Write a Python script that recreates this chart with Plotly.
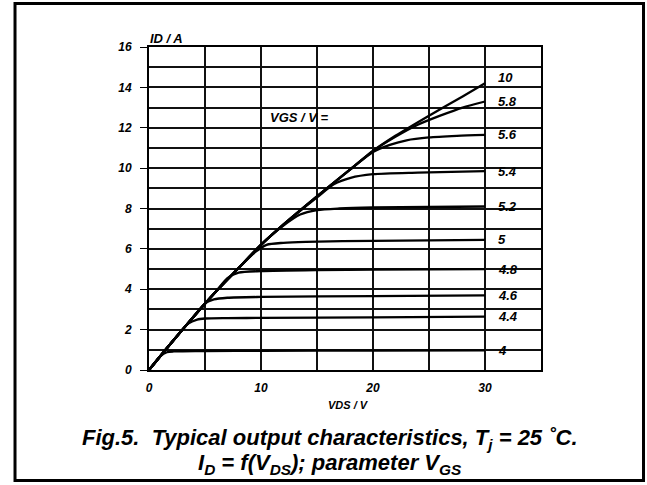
import plotly.graph_objects as go

# ---- data ----
vgs_labels = ["10", "5.8", "5.6", "5.4", "5.2", "5", "4.8", "4.6", "4.4", "4"]

vds_10 = [0, 2, 4, 6, 8, 10, 12, 15, 18, 20, 22, 25, 28, 30]
id_10 = [0, 1.35, 2.65, 3.9, 5.05, 6.2, 7.2, 8.6, 9.95, 10.85, 11.6, 12.6, 13.55, 14.2]

vds_58 = [0, 2, 4, 6, 8, 10, 12, 15, 18, 20, 22, 24, 26, 28, 30]
id_58 = [0, 1.35, 2.65, 3.9, 5.05, 6.2, 7.2, 8.6, 9.95, 10.85, 11.55, 12.15, 12.6, 13.0, 13.3]

vds_56 = [0, 2, 4, 6, 8, 10, 12, 15, 18, 20, 21.5, 23, 25, 27.5, 30]
id_56 = [0, 1.35, 2.65, 3.9, 5.05, 6.2, 7.2, 8.6, 9.95, 10.8, 11.15, 11.38, 11.52, 11.6, 11.65]

vds_54 = [0, 2, 4, 6, 8, 10, 12, 15, 16.5, 18, 20, 24, 30]
id_54 = [0, 1.35, 2.65, 3.9, 5.05, 6.2, 7.2, 8.55, 9.2, 9.52, 9.7, 9.78, 9.85]

vds_52 = [0, 2, 4, 6, 8, 10, 12, 13.5, 15, 17, 20, 30]
id_52 = [0, 1.35, 2.65, 3.9, 5.05, 6.2, 7.15, 7.7, 7.92, 8.0, 8.05, 8.1]

vds_50 = [0, 2, 4, 6, 8, 9.5, 10.5, 12, 14, 20, 30]
id_50 = [0, 1.35, 2.65, 3.9, 5.05, 5.85, 6.2, 6.3, 6.35, 6.4, 6.45]

vds_48 = [0, 2, 4, 6, 7, 8, 10, 15, 20, 30]
id_48 = [0, 1.35, 2.65, 3.9, 4.55, 4.82, 4.9, 4.95, 4.97, 5.0]

vds_46 = [0, 2, 4, 5, 5.8, 7, 10, 20, 30]
id_46 = [0, 1.35, 2.65, 3.3, 3.5, 3.58, 3.62, 3.66, 3.7]

vds_44 = [0, 2, 3.5, 4.3, 5, 7, 10, 20, 30]
id_44 = [0, 1.35, 2.3, 2.5, 2.55, 2.57, 2.58, 2.61, 2.64]

vds_40 = [0, 1, 1.6, 2.2, 3, 5, 10, 20, 30]
id_40 = [0, 0.68, 0.88, 0.92, 0.93, 0.94, 0.95, 0.96, 0.97]

curves_x = [vds_10, vds_58, vds_56, vds_54, vds_52, vds_50, vds_48, vds_46, vds_44, vds_40]
curves_y = [id_10, id_58, id_56, id_54, id_52, id_50, id_48, id_46, id_44, id_40]

FONT = "Liberation Sans, Arial, sans-serif"

fig = go.Figure()
for xs, ys in zip(curves_x, curves_y):
    fig.add_trace(go.Scatter(
        x=xs, y=ys, mode="lines",
        line=dict(color="black", width=2.3, shape="spline", smoothing=0.7),
        showlegend=False, hoverinfo="skip"))

grid_col = "#111111"
tick_font = dict(family=FONT, size=12, color="black", weight="bold", style="italic")
fig.update_xaxes(
    range=[0, 35], tickmode="linear", tick0=0, dtick=10,
    showgrid=True, gridcolor=grid_col, gridwidth=1.5,
    minor=dict(tickmode="linear", tick0=0, dtick=5, showgrid=True, gridcolor=grid_col, gridwidth=1.5),
    showline=True, mirror=True, linecolor="black", linewidth=1.8,
    ticks="", zeroline=False, automargin=False, ticklabelstandoff=6,
    tickfont=tick_font,
)
fig.update_yaxes(
    range=[0, 16], tickmode="linear", tick0=0, dtick=2,
    showgrid=True, gridcolor=grid_col, gridwidth=1.5,
    minor=dict(tickmode="linear", tick0=0, dtick=1, showgrid=True, gridcolor=grid_col, gridwidth=1.5),
    showline=True, mirror=True, linecolor="black", linewidth=1.8,
    ticks="outside", ticklen=7, tickwidth=1.4, tickcolor="black",
    zeroline=False, automargin=False, ticklabelstandoff=6,
    tickfont=tick_font,
)

lbl_font = dict(family=FONT, size=13, color="black", weight="bold", style="italic")
annotations = []
for lab, xs, ys in zip(vgs_labels, curves_x, curves_y):
    annotations.append(dict(
        x=31.0, y=ys[-1], xref="x", yref="y", text=lab, showarrow=False,
        xanchor="left", yanchor="middle", font=lbl_font,
        yshift=6 if lab == "10" else 0))

cap_font = dict(family=FONT, size=22, color="black", weight="bold", style="italic")
annotations += [
    dict(x=10.6, y=12.5, xref="x", yref="y", text="VGS / V =", showarrow=False,
         xanchor="left", yanchor="middle", font=dict(family=FONT, size=13, color="black", weight="bold", style="italic")),
    dict(x=-0.003, y=1.025, xref="paper", yref="paper", text="ID / A", showarrow=False,
         xanchor="left", yanchor="middle", font=dict(family=FONT, size=13, color="black", weight="bold", style="italic")),
    dict(x=0.508, y=-0.108, xref="paper", yref="paper", text="VDS / V", showarrow=False,
         xanchor="center", yanchor="middle", font=dict(family=FONT, size=11, color="black", weight="bold", style="italic")),
    dict(x=0.462, y=-0.2136, xref="paper", yref="paper",
         text="Fig.5.  Typical output characteristics, T<sub>j</sub> = 25 ˚C.", showarrow=False,
         xanchor="center", yanchor="middle", font=cap_font),
    dict(x=0.462, y=-0.291, xref="paper", yref="paper",
         text="I<sub>D</sub> = f(V<sub>DS</sub>); parameter V<sub>GS</sub>", showarrow=False,
         xanchor="center", yanchor="middle", font=cap_font),
]

shapes = [dict(type="rect", xref="paper", yref="paper", x0=-0.3418, x1=1.2615, y0=-0.3421, y1=1.1347,
               line=dict(color="black", width=3), fillcolor="rgba(0,0,0,0)", layer="above")]

fig.update_layout(
    width=647, height=485,
    margin=dict(l=149, r=106, t=47, b=115, autoexpand=False),
    paper_bgcolor="white", plot_bgcolor="white",
    annotations=annotations, shapes=shapes, showlegend=False,
)

fig.write_html("out.html")
